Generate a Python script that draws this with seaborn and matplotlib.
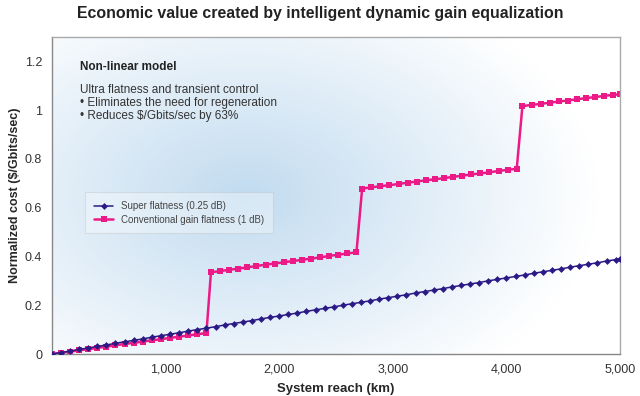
import numpy as np
import pandas as pd
import matplotlib
matplotlib.use("Agg")
import matplotlib.pyplot as plt
from matplotlib.ticker import FuncFormatter
import seaborn as sns

# Данные
super_reach = [0, 80, 160, 240, 320, 400, 480, 560, 640, 720, 800, 880, 960, 1040, 1120, 1200,
               1280, 1360, 1440, 1520, 1600, 1680, 1760, 1840, 1920, 2000, 2080, 2160, 2240, 2320,
               2400, 2480, 2560, 2640, 2720, 2800, 2880, 2960, 3040, 3120, 3200, 3280, 3360, 3440,
               3520, 3600, 3680, 3760, 3840, 3920, 4000, 4080, 4160, 4240, 4320, 4400, 4480, 4560,
               4640, 4720, 4800, 4880, 4960, 5000]
super_cost = [0, .006, .012, .019, .025, .031, .037, .044, .050, .056, .062, .069, .075, .081, .087,
              .094, .100, .106, .112, .119, .125, .131, .137, .144, .150, .156, .162, .168, .175,
              .181, .187, .193, .200, .206, .212, .218, .225, .231, .237, .243, .250, .256, .262,
              .268, .275, .281, .287, .293, .300, .306, .312, .318, .324, .331, .337, .343, .349,
              .356, .362, .368, .374, .381, .387, .390]

conv_reach = [0, 80, 160, 240, 320, 400, 480, 560, 640, 720, 800, 880, 960, 1040, 1120, 1200, 1280, 1360,
              1400, 1480, 1560, 1640, 1720, 1800, 1880, 1960, 2040, 2120, 2200, 2280, 2360, 2440, 2520, 2600, 2680,
              2730, 2810, 2890, 2970, 3050, 3130, 3210, 3290, 3370, 3450, 3530, 3610, 3690, 3770, 3850, 3930, 4010, 4090,
              4140, 4220, 4300, 4380, 4460, 4540, 4620, 4700, 4780, 4860, 4940, 5000]
conv_cost = [0, .005, .010, .015, .020, .025, .030, .036, .041, .046, .051, .056, .061, .066, .071, .076, .081, .086,
             .335, .340, .345, .350, .355, .361, .366, .371, .376, .381, .386, .391, .396, .402, .407, .412, .417,
             .678, .683, .688, .692, .697, .702, .707, .712, .716, .721, .726, .731, .736, .740, .745, .750, .755, .759,
             1.016, 1.021, 1.025, 1.030, 1.035, 1.039, 1.044, 1.049, 1.053, 1.058, 1.062, 1.065]

x_ticks = [1000, 2000, 3000, 4000, 5000]
y_ticks = [0, 0.2, 0.4, 0.6, 0.8, 1.0, 1.2]

df = pd.concat([
    pd.DataFrame({'reach': super_reach, 'cost': super_cost, 'series': 'Super flatness (0.25 dB)'}),
    pd.DataFrame({'reach': conv_reach, 'cost': conv_cost, 'series': 'Conventional gain flatness (1 dB)'}),
])

sns.set_theme(style='white')
plt.rcParams['font.family'] = ['Liberation Sans', 'DejaVu Sans']
plt.rcParams['text.color'] = '#222222'

fig = plt.figure(figsize=(6.4, 3.96), dpi=100)
ax = fig.add_axes([0.081, 0.106, 0.888, 0.801])

# Голубой радиальный фон
u, v = np.meshgrid(np.linspace(0, 1, 400), np.linspace(0, 1, 300))
d = np.sqrt(((u - 0.34) / 0.62) ** 2 + ((v - 0.50) / 0.72) ** 2)
t = np.clip(1 - d, 0, 1) ** 1.0
blue = np.array([0.76, 0.86, 0.94])
img = np.ones((300, 400, 3)) * (1 - t[..., None]) + blue * t[..., None]
ax.imshow(img, extent=[0, 1, 0, 1], transform=ax.transAxes, origin='lower',
          aspect='auto', zorder=0)

sns.lineplot(data=df[df.series.str.startswith('Super')], x='reach', y='cost', ax=ax,
             color='#2b1a85', lw=1.1, marker='D', markersize=3.5, markeredgewidth=0,
             label='Super flatness (0.25 dB)', zorder=3)
sns.lineplot(data=df[df.series.str.startswith('Conv')], x='reach', y='cost', ax=ax,
             color='#ec1a86', lw=1.8, marker='s', markersize=3.8, markeredgewidth=0,
             label='Conventional gain flatness (1 dB)', zorder=2)

ax.set_xlim(0, 5000)
ax.set_ylim(0, 1.3)
ax.set_xticks(x_ticks)
ax.set_yticks(y_ticks)
ax.xaxis.set_major_formatter(FuncFormatter(lambda x, p: f'{int(x):,}'))
ax.yaxis.set_major_formatter(FuncFormatter(lambda y, p: f'{y:g}'))
ax.tick_params(direction='in', length=3, width=0.8, colors='#777777', labelcolor='#333333',
               labelsize=9, pad=7)

for s in ['left', 'bottom']:
    ax.spines[s].set_color('#888888')
    ax.spines[s].set_linewidth(1.0)
for s in ['top', 'right']:
    ax.spines[s].set_color('#aaaaaa')
    ax.spines[s].set_linewidth(1.0)

ax.set_xlabel('System reach (km)', fontsize=9.5, fontweight='bold', labelpad=5)
ax.set_ylabel('Normalized cost ($/Gbits/sec)', fontsize=9, fontweight='bold', labelpad=3)
fig.text(0.5, 0.965, 'Economic value created by intelligent dynamic gain equalization',
         ha='center', va='center', fontsize=11.4, fontweight='bold')

ax.text(0.05, 0.905, 'Non-linear model', transform=ax.transAxes, fontsize=8.5,
        fontweight='bold', va='center')
ax.text(0.05, 0.852, 'Ultra flatness and transient control\n\u2022 Eliminates the need for regeneration\n\u2022 Reduces $/Gbits/sec by 63%',
        transform=ax.transAxes, fontsize=8.5, va='top', linespacing=1.15, color='#333333')

leg = ax.legend(loc='upper left', bbox_to_anchor=(0.05, 0.525), fontsize=7,
                frameon=True, fancybox=False, framealpha=0.35, edgecolor='#bbbbbb',
                labelcolor='#444444', handlelength=2.0, borderpad=0.9, labelspacing=0.35)
leg.get_frame().set_linewidth(0.8)

fig.savefig('out.png', dpi=100)
